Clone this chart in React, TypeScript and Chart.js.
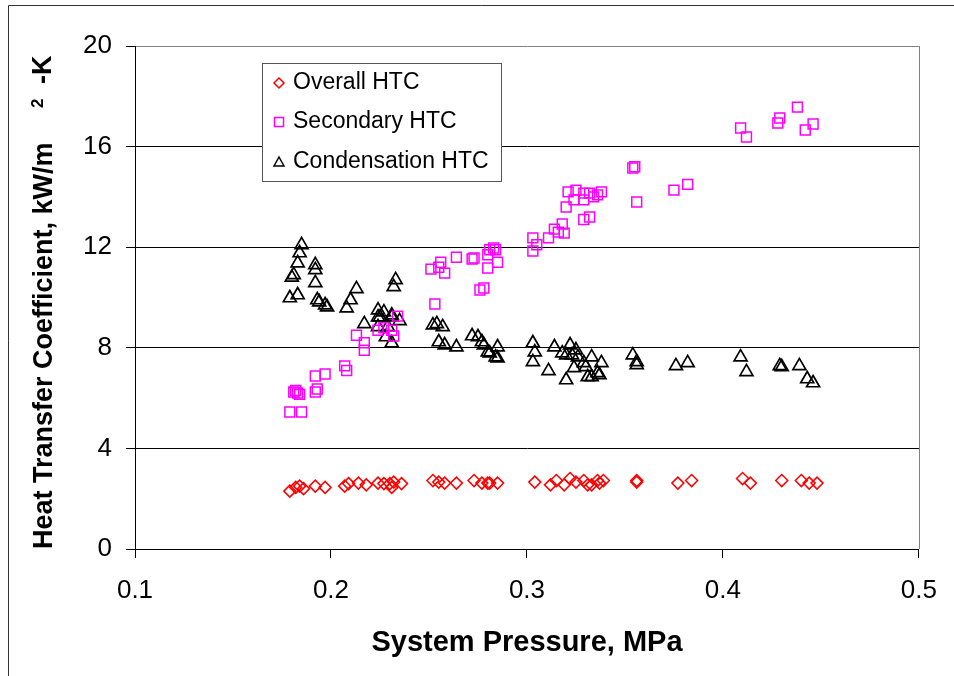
import React, { useEffect, useRef } from 'react';
import { Chart, registerables } from 'chart.js';

Chart.register(...registerables);

const FONT = '"Liberation Sans", Arial, sans-serif';

const xTickLabels = ['0.1', '0.2', '0.3', '0.4', '0.5'];
const seriesNames = ['Overall HTC', 'Secondary HTC', 'Condensation HTC'];
const xAxisTitle = 'System Pressure, MPa';
const yAxisTitle = 'Heat Transfer Coefficient, kW/m';
const yAxisSup = '2';
const yAxisTail = '-K';

const overallPressure = [
  0.179, 0.182, 0.184, 0.186, 0.192, 0.197, 0.207, 0.209, 0.214, 0.218, 0.224, 0.227, 0.230, 0.232, 0.231,
  0.236, 0.252, 0.255, 0.258, 0.264, 0.273, 0.277, 0.280, 0.281, 0.285, 0.304, 0.312, 0.315, 0.319, 0.322,
  0.325, 0.329, 0.331, 0.333, 0.336, 0.337, 0.339, 0.356, 0.356, 0.377, 0.384, 0.410, 0.414, 0.430, 0.440,
  0.444, 0.448,
];
const overallHTC = [
  2.3, 2.45, 2.5, 2.4, 2.5, 2.45, 2.5, 2.6, 2.62, 2.55, 2.62, 2.6, 2.6, 2.66, 2.45,
  2.6, 2.72, 2.66, 2.62, 2.62, 2.72, 2.62, 2.62, 2.62, 2.62, 2.66, 2.55, 2.72, 2.55, 2.8,
  2.66, 2.72, 2.55, 2.55, 2.72, 2.62, 2.72, 2.72, 2.66, 2.62, 2.72, 2.8, 2.62, 2.72, 2.72,
  2.62, 2.62,
];

const secondaryPressure = [
  0.179, 0.185, 0.181, 0.183, 0.182, 0.184, 0.192, 0.197, 0.192, 0.193, 0.207, 0.208, 0.213, 0.217, 0.217,
  0.224, 0.227, 0.231, 0.232, 0.234, 0.253, 0.251, 0.256, 0.255, 0.258, 0.264, 0.272, 0.273, 0.280, 0.280,
  0.276, 0.278, 0.283, 0.284, 0.285, 0.281, 0.303, 0.303, 0.305, 0.311, 0.314, 0.318, 0.316, 0.319, 0.320,
  0.321, 0.325, 0.324, 0.329, 0.329, 0.332, 0.334, 0.336, 0.338, 0.329, 0.332, 0.354, 0.355, 0.356, 0.375,
  0.382, 0.409, 0.412, 0.428, 0.429, 0.438, 0.442, 0.446,
];
const secondaryHTC = [
  5.45, 5.45, 6.24, 6.2, 6.3, 6.15, 6.88, 6.96, 6.24, 6.36, 7.28, 7.1, 8.5, 8.2, 7.9,
  8.7, 8.8, 8.7, 8.47, 9.26, 9.74, 11.13, 11.4, 11.2, 10.97, 11.6, 11.53, 11.57, 11.7, 11.17,
  10.3, 10.38, 11.97, 11.9, 11.4, 11.9, 12.37, 11.85, 12.1, 12.37, 12.72, 12.92, 12.6, 12.56, 13.6,
  14.2, 14.27, 13.88, 14.15, 13.88, 14.15, 14.0, 14.08, 14.2, 13.1, 13.2, 15.15, 15.2, 13.8, 14.27,
  14.5, 16.74, 16.38, 16.94, 17.14, 17.57, 16.66, 16.9,
];

const condensationPressure = [
  0.185, 0.184, 0.183, 0.180, 0.181, 0.179, 0.183, 0.192, 0.192, 0.192, 0.193, 0.194, 0.197, 0.198, 0.213,
  0.210, 0.208, 0.233, 0.232, 0.224, 0.224, 0.225, 0.217, 0.227, 0.224, 0.229, 0.231, 0.231, 0.235, 0.228,
  0.231, 0.252, 0.254, 0.257, 0.255, 0.258, 0.264, 0.272, 0.275, 0.277, 0.278, 0.280, 0.281, 0.284, 0.285,
  0.285, 0.303, 0.304, 0.303, 0.311, 0.314, 0.318, 0.320, 0.322, 0.323, 0.325, 0.326, 0.320, 0.324, 0.329,
  0.330, 0.331, 0.333, 0.333, 0.336, 0.338, 0.337, 0.354, 0.356, 0.356, 0.376, 0.382, 0.409, 0.412, 0.429,
  0.430, 0.439, 0.443, 0.446,
];
const condensationHTC = [
  12.09, 11.77, 11.37, 10.8, 10.9, 9.98, 10.1, 11.3, 11.1, 10.58, 9.9, 9.82, 9.7, 9.62, 10.34,
  9.9, 9.58, 10.7, 10.42, 9.5, 9.22, 9.22, 8.95, 9.42, 8.83, 8.83, 9.3, 9.22, 9.07, 8.43,
  8.19, 8.9, 8.95, 8.83, 8.23, 8.11, 8.03, 8.47, 8.43, 8.23, 8.11, 7.83, 7.79, 7.63, 7.59,
  8.03, 8.19, 7.83, 7.44, 7.08, 8.03, 7.79, 7.71, 8.11, 7.71, 7.91, 7.63, 6.72, 7.2, 7.4,
  7.24, 6.84, 7.63, 6.84, 7.0, 7.4, 6.92, 7.71, 7.44, 7.32, 7.28, 7.4, 7.63, 7.04, 7.28,
  7.24, 7.28, 6.76, 6.6,
];

const toPoints = (xs: number[], ys: number[]) => xs.map((x, i) => ({ x, y: ys[i] }));

const framePlugin = {
  id: 'frame',
  beforeDatasetsDraw(chart: any) {
    const { ctx, chartArea } = chart;
    ctx.save();
    ctx.strokeStyle = '#808080';
    ctx.lineWidth = 1;
    ctx.beginPath();
    ctx.moveTo(Math.round(chartArea.right) + 0.5, chartArea.top);
    ctx.lineTo(Math.round(chartArea.right) + 0.5, chartArea.bottom);
    ctx.stroke();
    ctx.restore();
  },
  afterDraw(chart: any) {
    const { ctx } = chart;
    ctx.save();
    ctx.strokeStyle = '#333';
    ctx.lineWidth = 1;
    ctx.beginPath();
    ctx.moveTo(8.5, 676);
    ctx.lineTo(8.5, 5.5);
    ctx.lineTo(954, 5.5);
    ctx.stroke();
    ctx.fillStyle = '#000';
    ctx.textBaseline = 'middle';
    ctx.textAlign = 'left';
    ctx.translate(38, 108);
    ctx.rotate(-Math.PI / 2);
    ctx.font = `bold 17px ${FONT}`;
    ctx.fillText(yAxisSup, 0, 0);
    ctx.restore();
    ctx.save();
    ctx.fillStyle = '#000';
    ctx.textBaseline = 'middle';
    ctx.textAlign = 'left';
    ctx.translate(44, 84);
    ctx.rotate(-Math.PI / 2);
    ctx.font = `bold 27px ${FONT}`;
    ctx.fillText(yAxisTail, 0, 0);
    ctx.restore();
  },
};

const legendPlugin = {
  id: 'boxLegend',
  afterDraw(chart: any) {
    const { ctx } = chart;
    const left = 262.5, top = 63.5, w = 239, h = 118;
    ctx.save();
    ctx.fillStyle = '#fff';
    ctx.fillRect(left, top, w, h);
    ctx.strokeStyle = '#555';
    ctx.lineWidth = 1;
    ctx.strokeRect(left, top, w, h);
    const rows = [83, 122, 162];
    chart.data.datasets.forEach((ds: any, i: number) => {
      const cy = rows[i];
      const cx = 279;
      ctx.strokeStyle = ds.borderColor;
      ctx.lineWidth = 1.5;
      ctx.beginPath();
      if (ds.pointStyle === 'rectRot') {
        ctx.moveTo(cx, cy - 5);
        ctx.lineTo(cx + 5, cy);
        ctx.lineTo(cx, cy + 5);
        ctx.lineTo(cx - 5, cy);
        ctx.closePath();
      } else if (ds.pointStyle === 'rect') {
        ctx.rect(cx - 4.5, cy - 4.5, 9, 9);
      } else {
        ctx.moveTo(cx, cy - 5);
        ctx.lineTo(cx + 5, cy + 4);
        ctx.lineTo(cx - 5, cy + 4);
        ctx.closePath();
      }
      ctx.stroke();
      ctx.fillStyle = '#000';
      ctx.font = `23px ${FONT}`;
      ctx.textBaseline = 'middle';
      ctx.textAlign = 'left';
      ctx.fillText(ds.label, 293, cy);
    });
    ctx.restore();
  },
};

export default function App() {
  const canvasRef = useRef<HTMLCanvasElement | null>(null);

  useEffect(() => {
    const canvas = canvasRef.current;
    if (!canvas) return;
    const chart = new Chart(canvas, {
      type: 'scatter',
      data: {
        datasets: [
          {
            label: seriesNames[0],
            data: toPoints(overallPressure, overallHTC),
            pointStyle: 'rectRot',
            pointRadius: 6,
            borderColor: '#FF0000',
            backgroundColor: 'rgba(0,0,0,0)',
            borderWidth: 1.5,
          },
          {
            label: seriesNames[1],
            data: toPoints(secondaryPressure, secondaryHTC),
            pointStyle: 'rect',
            pointRadius: 7,
            borderColor: '#FF00FF',
            backgroundColor: 'rgba(0,0,0,0)',
            borderWidth: 1.5,
          },
          {
            label: seriesNames[2],
            data: toPoints(condensationPressure, condensationHTC),
            pointStyle: 'triangle',
            pointRadius: 7.5,
            borderColor: '#000000',
            backgroundColor: 'rgba(0,0,0,0)',
            borderWidth: 1.7,
          },
        ],
      },
      options: {
        responsive: false,
        animation: false,
        events: [],
        layout: { padding: { left: 0, right: 33, top: 46, bottom: 0 } },
        plugins: {
          legend: { display: false },
          tooltip: { enabled: false },
        },
        scales: {
          x: {
            type: 'linear',
            min: 0.1,
            max: 0.5,
            ticks: {
              stepSize: 0.1,
              padding: 17,
              color: '#000',
              font: { family: FONT, size: 26 },
              maxRotation: 0,
              callback: (_v: any, i: number) => xTickLabels[i],
            },
            grid: {
              drawOnChartArea: false,
              drawTicks: true,
              tickLength: 9,
              color: '#000',
            },
            border: { display: true, color: '#000', width: 1 },
            title: {
              display: true,
              text: xAxisTitle,
              color: '#000',
              font: { family: FONT, size: 29, weight: 'bold' },
              padding: { top: 0, bottom: 16 },
            },
            afterFit: (scale: any) => {
              scale.height = 127;
            },
          },
          y: {
            type: 'linear',
            min: 0,
            max: 20,
            ticks: {
              stepSize: 4,
              padding: 14,
              color: '#000',
              font: { family: FONT, size: 26 },
            },
            grid: {
              drawTicks: true,
              tickLength: 9,
              color: (c: any) => (c.tick && c.tick.value === 20 ? '#808080' : '#000'),
              tickColor: '#000',
            },
            border: { display: true, color: '#000', width: 1 },
            title: {
              display: true,
              text: yAxisTitle,
              align: 'start',
              color: '#000',
              font: { family: FONT, size: 27, weight: 'bold' },
              padding: { top: 28, bottom: 0 },
            },
            afterFit: (scale: any) => {
              scale.width = 135;
            },
          },
        },
      },
      plugins: [framePlugin, legendPlugin],
    } as any);
    return () => chart.destroy();
  }, []);

  return (
    <div style={{ position: 'fixed', left: 0, top: 0, width: 954, height: 676, background: '#fff' }}>
      <canvas ref={canvasRef} width={954} height={676} style={{ display: 'block' }} />
    </div>
  );
}
